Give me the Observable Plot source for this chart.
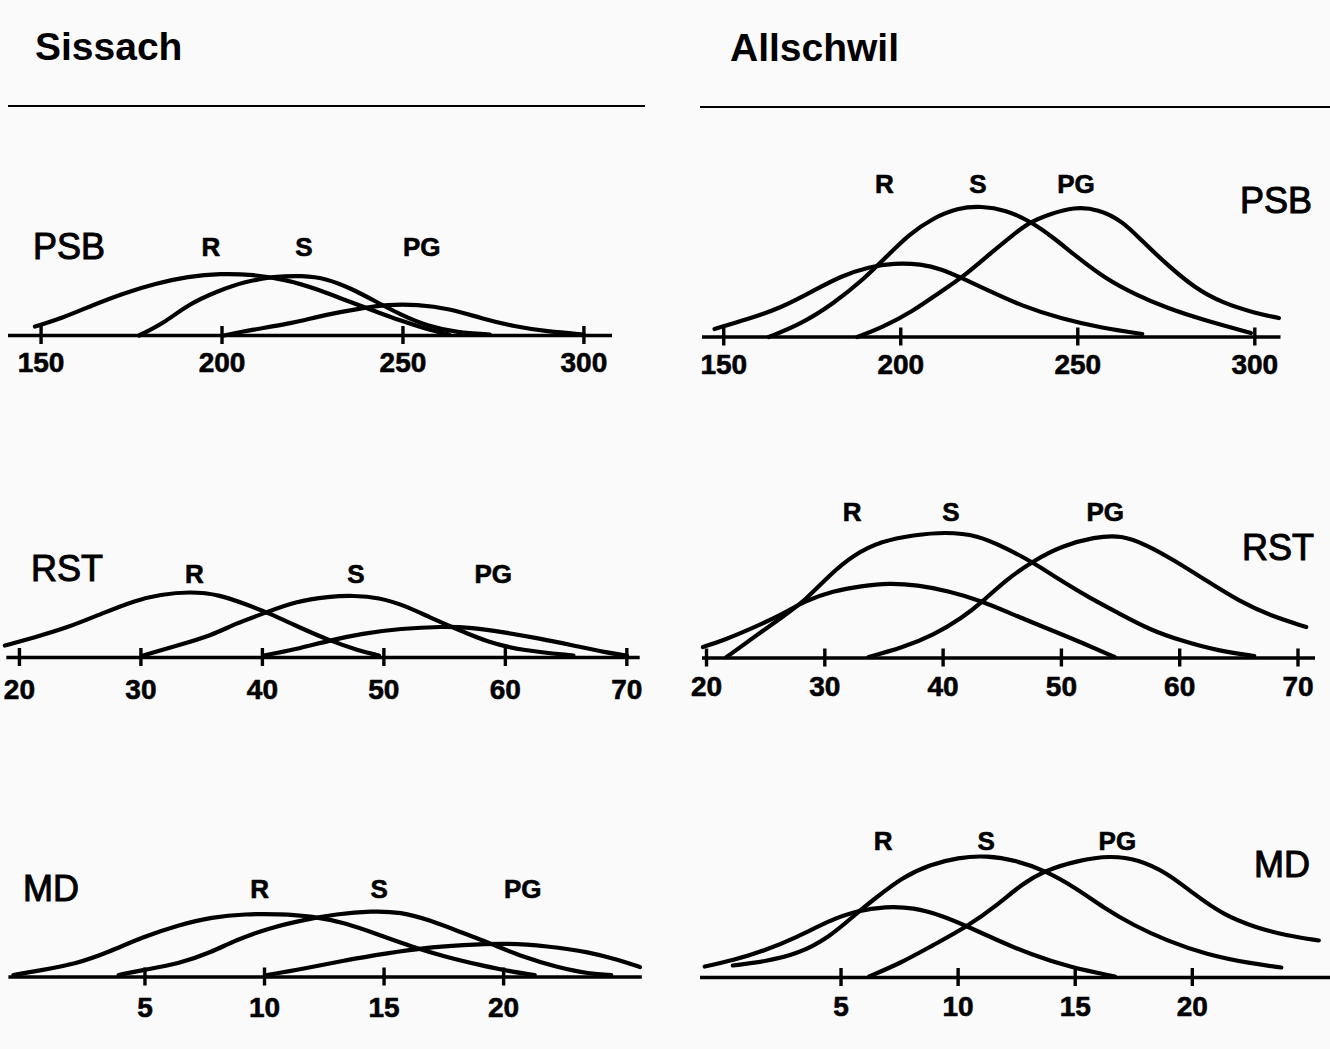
<!DOCTYPE html>
<html><head><meta charset="utf-8">
<script src="https://cdn.jsdelivr.net/npm/d3@7"></script>
<script src="https://cdn.jsdelivr.net/npm/@observablehq/plot@0.6"></script>
<style>
html,body{margin:0;padding:0;background:#fafafa;}
#page{position:relative;width:1330px;height:1049px;overflow:hidden;font-family:"Liberation Sans",Arial,Helvetica,sans-serif;color:#000;}
.title{position:absolute;font-size:39px;font-weight:bold;line-height:1;white-space:nowrap;}
.rule{position:absolute;height:2px;background:#000;}
.pname{position:absolute;font-size:36px;line-height:1;-webkit-text-stroke:1px #000;white-space:nowrap;}
.panel{position:absolute;}
</style></head><body><div id="page"></div>
<script>
// ---------- data (x value, relative frequency) ----------
const curveNames = ["R", "S", "PG"];
const psbTicks = [150, 200, 250, 300];
const rstTicks = [20, 30, 40, 50, 60, 70];
const mdTicks = [5, 10, 15, 20];

// Sissach
const sPSB_R = [[148.3,9],[155.6,17],[164.7,31],[172.6,42],[181.6,52],[190.6,59],[199.6,62],[208.6,61],[217.7,56],[226.7,46],[235.7,33],[242.5,24],[249.2,15],[256,7],[262.8,1]];
const sPSB_S = [[177.1,0],[183.8,12],[190.6,31],[198.5,44],[206.4,54],[214.3,59],[222.2,60],[228.9,57],[235.7,47],[242.5,34],[249.2,21],[257.1,9],[265,3],[274,1]];
const sPSB_PG = [[200.5,0],[208.6,6],[217.7,11],[228.9,21],[238,27],[245.9,31],[253.8,31],[262.8,27],[271.8,17],[280.8,9],[289.8,4],[300,1]];

const sRST_R = [[18.8,12],[21.2,20],[24,30],[26.8,44],[29.5,57],[31.6,63],[34,66],[36.5,63],[38.9,52],[40.6,44],[42.7,32],[45.5,17],[47.9,7],[49.6,2]];
const sRST_S = [[30.2,2],[33,12],[35.8,22],[37.8,34],[40.3,45],[42.7,56],[45.5,61],[47.5,62],[49.6,60],[51.7,52],[53.8,40],[55.9,29],[58.6,15],[61.4,7],[65.6,2]];
const sRST_PG = [[40.1,2],[42.7,8],[45.5,17],[48.2,24],[51.4,29],[54.8,31],[57.2,30],[60,25],[62.8,19],[65.6,12],[68.3,5],[70,2]];

const sMD_R = [[-0.5,2],[0.7,7],[2.1,13],[3.5,25],[4.9,40],[6.4,52],[7.8,60],[9.2,63],[10.6,63],[12,61],[13.4,54],[14.8,42],[16.2,30],[17.6,20],[19,12],[20.4,5],[21.3,2]];
const sMD_S = [[3.9,2],[4.9,7],[6.4,13],[7.8,25],[8.8,37],[10.2,49],[11.6,57],[13,63],[14.5,66],[15.7,65],[16.9,57],[18.3,44],[19.4,34],[20.8,20],[22.2,10],[23.6,3],[24.5,2]];
const sMD_PG = [[10.1,2],[11.6,8],[13.4,17],[15.2,24],[16.6,29],[18.3,32],[20.1,34],[21.8,31],[23.6,25],[24.8,17],[25.7,10]];

// Allschwil
const aPSB_R = [[147.4,8],[157,18],[166.1,29],[175.2,46],[183.1,61],[191.1,70],[197.9,74],[205.8,73],[211.5,68],[217.2,59],[225.1,46],[234.2,31],[245.5,18],[256.9,9],[268.2,3]];
const aPSB_S = [[162.7,0],[171.8,13],[180.9,33],[189.9,59],[195.6,79],[202.4,103],[209.2,119],[216,129],[222.8,131],[229.7,127],[236.5,116],[243.3,99],[250.1,79],[258,58],[266,43],[275,29],[286.4,16],[298.9,4]];
const aPSB_PG = [[187.7,0],[194.5,9],[203.6,26],[211.5,46],[217.2,59],[225.1,83],[232,103],[236.5,115],[242.1,123],[248.9,130],[255.8,128],[262.6,116],[268.2,96],[275,73],[283,49],[290.9,34],[300,24],[306.8,19]];

const aRST_R = [[19.7,11],[21.5,18],[23.9,30],[26.3,43],[28.3,57],[30.7,67],[33.1,72],[35.4,75],[37.8,73],[40.5,67],[43.3,57],[46,43],[48.7,30],[51.4,17],[54.5,1]];
const aRST_S = [[21.7,1],[23.9,20],[26.3,40],[28.3,57],[30.4,83],[32.4,103],[34.8,117],[37.5,123],[40.2,126],[42.9,123],[45.3,110],[47.7,95],[50,77],[52.4,60],[54.8,45],[57.5,28],[60.2,17],[63.3,7],[66.3,2]];
const aRST_PG = [[33.7,1],[36.5,10],[39.2,23],[41.6,40],[43.4,57],[45.3,78],[47.6,97],[50,112],[52.8,121],[55.1,123],[57.2,113],[59.5,98],[62.3,77],[65,57],[67.7,42],[70.7,31]];

const aMD_R = [[-0.82,11],[0.38,17],[1.75,27],[3.1,40],[4.5,57],[5.7,67],[6.9,71],[8.1,70],[9.3,62],[10.4,51],[11.7,37],[13.1,23],[14.8,10],[16.7,1]];
const aMD_S = [[0.38,12],[1.75,16],[3.1,23],[4.5,40],[5.7,65],[6.4,78],[7.6,100],[8.8,113],[10,120],[11.2,122],[12.5,117],[13.7,107],[15,90],[16.2,70],[17.5,52],[18.9,37],[20.6,23],[22.5,14],[23.8,10]];
const aMD_PG = [[6.2,1],[7.6,15],[8.9,32],[10.4,51],[11.7,73],[12.7,93],[13.7,107],[15.1,117],[16.5,122],[17.7,118],[18.9,105],[20.1,83],[21.3,63],[22.7,50],[24,42],[25.4,37]];

// curve label x-values (R, S, PG)
const sPSB_labelX = [196.9, 222.6, 255.2];
const sRST_labelX = [34.4, 47.7, 59.0];
const sMD_labelX = [9.8, 14.8, 20.8];
const aPSB_labelX = [195.4, 221.8, 249.5];
const aRST_labelX = [32.3, 40.65, 53.7];
const aMD_labelX = [6.8, 11.2, 16.8];

// ---------- layout ----------
const FONT = '"Liberation Sans", Arial, Helvetica, sans-serif';
const panels = [
  {name:"PSB", series:[sPSB_R,sPSB_S,sPSB_PG], labelX:sPSB_labelX, ticks:psbTicks,
   L:{left:0,width:660,top:150,height:240,axisY:335,axisPx:[8,612],domain:[141,307.9],labelH:87.5,tickDy:28},
   nameCss:{left:"33px",top:"229px"}},
  {name:"RST", series:[sRST_R,sRST_S,sRST_PG], labelX:sRST_labelX, ticks:rstTicks,
   L:{left:0,width:660,top:480,height:250,axisY:657,axisPx:[6.3,639.7],domain:[18.96,71.1],labelH:83,tickDy:33},
   nameCss:{left:"31px",top:"551px"}},
  {name:"MD", series:[sMD_R,sMD_S,sMD_PG], labelX:sMD_labelX, ticks:mdTicks,
   L:{left:0,width:660,top:800,height:240,axisY:976.5,axisPx:[8.4,641.8],domain:[-0.69,25.8],labelH:87,tickDy:31},
   nameCss:{left:"23px",top:"871px"}},
  {name:"PSB", series:[aPSB_R,aPSB_S,aPSB_PG], labelX:aPSB_labelX, ticks:psbTicks,
   L:{left:660,width:670,top:150,height:240,axisY:336.5,axisPx:[702,1280.5],domain:[144,307.4],labelH:152,tickDy:28},
   nameCss:{right:"18px",top:"183px"}},
  {name:"RST", series:[aRST_R,aRST_S,aRST_PG], labelX:aRST_labelX, ticks:rstTicks,
   L:{left:660,width:670,top:480,height:250,axisY:657.5,axisPx:[702,1315],domain:[19.66,71.48],labelH:145.5,tickDy:29},
   nameCss:{right:"16px",top:"530px"}},
  {name:"MD", series:[aMD_R,aMD_S,aMD_PG], labelX:aMD_labelX, ticks:mdTicks,
   L:{left:660,width:670,top:800,height:240,axisY:977,axisPx:[700,1330],domain:[-1.0,25.9],labelH:136,tickDy:30},
   nameCss:{right:"20px",top:"847px"}}
];

const page = document.getElementById("page");
function addDiv(cls, css, text){
  const d = document.createElement("div");
  d.className = cls;
  Object.assign(d.style, css);
  if (text != null) d.textContent = text;
  page.appendChild(d);
  return d;
}

addDiv("title", {left:"35px", top:"27px"}, "Sissach");
addDiv("title", {left:"730px", top:"28px"}, "Allschwil");
addDiv("rule", {left:"8px", width:"637px", top:"105px"});
addDiv("rule", {left:"700px", width:"630px", top:"106px"});

for (const p of panels) {
  const L = p.L;
  const axisLocal = L.axisY - L.top;
  const rows = p.series.flatMap((s, i) => s.map(([x, y]) => ({x, y, name: curveNames[i]})));
  const labels = curveNames.map((t, i) => ({t, x: p.labelX[i]}));
  const svg = Plot.plot({
    width: L.width,
    height: L.height,
    marginLeft: L.axisPx[0] - L.left,
    marginRight: L.left + L.width - L.axisPx[1],
    marginTop: 0,
    marginBottom: 0,
    x: {domain: L.domain, axis: null},
    y: {domain: [0, 200], range: [axisLocal, axisLocal - 200], axis: null},
    style: {background: "transparent", overflow: "visible", fontFamily: FONT, color: "#000"},
    marks: [
      Plot.ruleY([0], {stroke: "#000", strokeWidth: 3.6}),
      Plot.ruleX(p.ticks, {x: d => d, y1: -9, y2: 9, stroke: "#000", strokeWidth: 3.4}),
      Plot.line(rows, {x: "x", y: "y", z: "name", curve: "basis", stroke: "#000",
        strokeWidth: 4.2, strokeLinecap: "round", strokeLinejoin: "round"}),
      Plot.text(p.ticks, {x: d => d, y: 0, dy: L.tickDy, text: d => String(d),
        fontSize: 28, fontWeight: "bold", fill: "#000", stroke: "#000", strokeWidth: 0.6}),
      Plot.text(labels, {x: "x", y: () => L.labelH, text: "t",
        fontSize: 26, fontWeight: "bold", fill: "#000", stroke: "#000", strokeWidth: 0.6})
    ]
  });
  const holder = addDiv("panel", {left: L.left + "px", top: L.top + "px", width: L.width + "px", height: L.height + "px"});
  holder.appendChild(svg);
  addDiv("pname", p.nameCss, p.name);
}
</script></body></html>
